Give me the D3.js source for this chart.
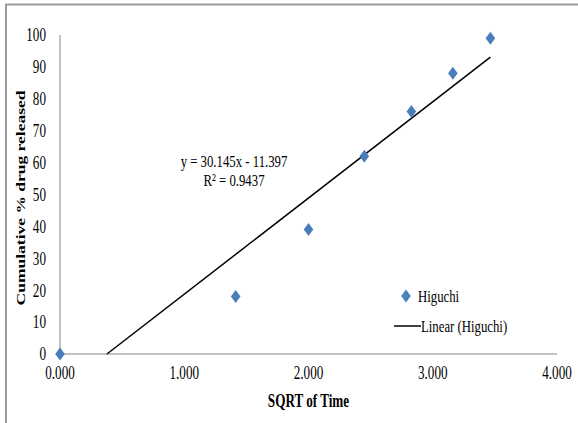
<!DOCTYPE html>
<html><head><meta charset="utf-8">
<script src="https://cdn.jsdelivr.net/npm/d3@7"></script>
<style>
body{margin:0;background:#fff;}
svg text{font-family:"Liberation Serif","Times New Roman",serif;fill:#000;}
</style></head>
<body>
<svg id="chart" width="578" height="423"></svg>
<script>
const sqrtTime = [0, 1.414, 2.000, 2.449, 2.828, 3.162, 3.464];
const released = [0, 18, 39, 62, 76, 88, 99];
const xTicks = [0, 1, 2, 3, 4];
const yTicks = [0, 10, 20, 30, 40, 50, 60, 70, 80, 90, 100];
const seriesName = "Higuchi";
const trendName = "Linear (Higuchi)";
const eqText = "y = 30.145x - 11.397";
const r2Text = "R² = 0.9437";

const SX = 0.73;   // horizontal squeeze of the reference picture
const FS = 18;

const svg = d3.select("#chart");
svg.append("path").attr("d","M6,423 V4.5 H578").attr("fill","none").attr("stroke","#9a9a9a").attr("stroke-width",2);

const x = d3.scaleLinear().domain([0,4]).range([60,557]);
const y = d3.scaleLinear().domain([0,100]).range([354,35]);

function label(px, py, txt, opts={}){
  const g = svg.append("g").attr("transform",`translate(${px},${py}) scale(${opts.sx||SX},1)`);
  const t = g.append("text").attr("x",0).attr("y",0)
    .attr("text-anchor",opts.anchor||"start")
    .attr("font-size",opts.fs||FS)
    .attr("font-weight",opts.bold?"bold":"normal")
    .text(txt);
  if(opts.dy) t.attr("dy",opts.dy);
  return t;
}

svg.append("line").attr("x1",x(0)).attr("x2",x(0)).attr("y1",y(100)).attr("y2",y(0)).attr("stroke","#868686").attr("stroke-width",1);
svg.append("line").attr("x1",x(0)).attr("x2",x(4)).attr("y1",y(0)).attr("y2",y(0)).attr("stroke","#868686").attr("stroke-width",1);

yTicks.forEach(d=>label(46, y(d), d, {anchor:"end", dy:"0.35em"}));
xTicks.forEach(d=>label(x(d), y(0)+25, d3.format(".3f")(d), {anchor:"middle"}));

label(x(2), 407, "SQRT of Time", {anchor:"middle", bold:true});
svg.append("g").attr("transform",`translate(25,198) rotate(-90) scale(1,${SX})`)
  .append("text").attr("text-anchor","middle").attr("font-size",17.5).attr("font-weight","bold")
  .text("Cumulative % drug released");

// linear regression trendline
const n = sqrtTime.length;
const mx = d3.mean(sqrtTime), my = d3.mean(released);
let sxy=0,sxx=0;
for(let i=0;i<n;i++){sxy+=(sqrtTime[i]-mx)*(released[i]-my);sxx+=(sqrtTime[i]-mx)**2;}
const slope = sxy/sxx, intercept = my - slope*mx;
const x0 = Math.max(0, -intercept/slope), x1 = d3.max(sqrtTime);
svg.append("line").attr("x1",x(x0)).attr("y1",y(slope*x0+intercept))
  .attr("x2",x(x1)).attr("y2",y(slope*x1+intercept))
  .attr("stroke","#000").attr("stroke-width",1.5);

const diamond = "M0,-6.5 L4.8,0 L0,6.5 L-4.8,0 Z";
svg.selectAll(".pt").data(sqrtTime).enter().append("path")
  .attr("d",diamond).attr("transform",(d,i)=>"translate("+x(d)+","+y(released[i])+")")
  .attr("fill","#4a7ebb");

label(234, 167, eqText, {anchor:"middle", fs:17.5});
label(234, 186, r2Text, {anchor:"middle", fs:17.5});

svg.append("path").attr("d",diamond).attr("transform","translate(406,296)").attr("fill","#4a7ebb");
label(418, 296, seriesName, {dy:"0.35em", fs:17.5});
svg.append("line").attr("x1",394).attr("x2",421).attr("y1",326).attr("y2",326).attr("stroke","#000").attr("stroke-width",1.5);
label(421, 326, trendName, {dy:"0.35em", fs:17.5});
</script>
</body></html>
